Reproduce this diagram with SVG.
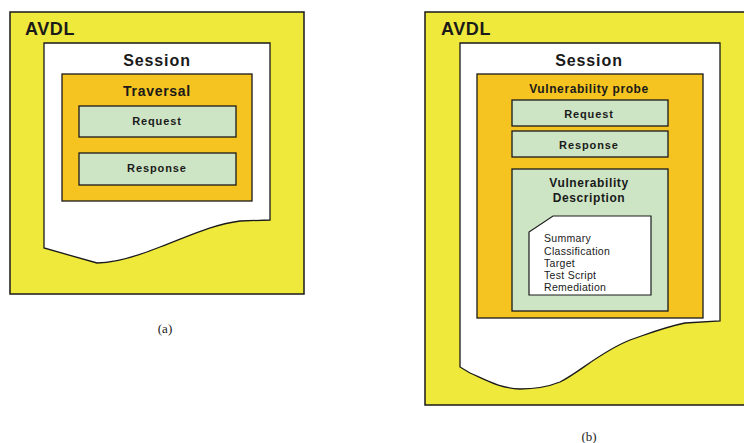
<svg xmlns="http://www.w3.org/2000/svg" width="744" height="443" viewBox="0 0 744 443">
  <style>
    .avdl { fill: #EFE93C; stroke: #1a1a1a; stroke-width: 1.5; }
    .sess { fill: #ffffff; stroke: #1a1a1a; stroke-width: 1.3; }
    .trav { fill: #F5C420; stroke: #1a1a1a; stroke-width: 1.3; }
    .msg  { fill: #CDE5C5; stroke: #1a1a1a; stroke-width: 1.3; }
    .note { fill: #ffffff; stroke: #1a1a1a; stroke-width: 1.2; }
    text { font-family: "Liberation Sans", Arial, sans-serif; fill: #1a1a1a; }
    .t1 { font-size: 18px; font-weight: bold; letter-spacing: 0.6px; }
    .t2 { font-size: 16px; font-weight: bold; text-anchor: middle; letter-spacing: 0.9px; }
    .t3 { font-size: 14px; font-weight: bold; text-anchor: middle; letter-spacing: 0.7px; }
    .t4 { font-size: 11px; font-weight: bold; text-anchor: middle; letter-spacing: 0.9px; }
    .t6 { font-size: 12px; font-weight: bold; text-anchor: middle; letter-spacing: 0.6px; }
    .t5 { font-size: 10.5px; letter-spacing: 0.3px; }
    .cap { font-family: "Liberation Serif", "Times New Roman", serif; font-size: 13px; text-anchor: middle; }
  </style>

  <!-- (a) traversal -->
  <g id="a-avdl">
    <rect class="avdl" x="10" y="12" width="294" height="282"/>
    <text class="t1" x="25" y="35">AVDL</text>
  </g>
  <g id="a-session">
    <path class="sess" d="M44,43 H270 V220 L240,221 C210,225 185,238 160,247 C135,257 115,263 97,263 L44,248 Z"/>
    <text class="t2" x="157" y="66">Session</text>
  </g>
  <g id="a-traversal">
    <rect class="trav" x="62" y="74" width="190" height="127"/>
    <text class="t3" x="157" y="96">Traversal</text>
  </g>
  <g id="a-request">
    <rect class="msg" x="79" y="106" width="157" height="31"/>
    <text class="t4" x="157" y="125">Request</text>
  </g>
  <g id="a-response">
    <rect class="msg" x="79" y="153" width="157" height="32"/>
    <text class="t4" x="157" y="172">Response</text>
  </g>
  <text class="cap" x="165" y="333">(a)</text>

  <!-- (b) vulnerability probe -->
  <g id="b-avdl">
    <path class="avdl" d="M746,12 H425 V405 H746"/>
    <text class="t1" x="441" y="35">AVDL</text>
  </g>
  <g id="b-session">
    <path class="sess" d="M460,43 H720 V321 L685,323 C665,327 650,333 630,340 C600,352 580,372 560,382 C545,388 530,389 520,389 C500,388 490,382 470,373 L460,367 Z"/>
    <text class="t2" x="589" y="66">Session</text>
  </g>
  <g id="b-probe">
    <rect class="trav" x="477" y="74" width="226" height="244"/>
    <text class="t6" x="589" y="93">Vulnerability probe</text>
  </g>
  <g id="b-request">
    <rect class="msg" x="512" y="100" width="156" height="26"/>
    <text class="t4" x="589" y="118">Request</text>
  </g>
  <g id="b-response">
    <rect class="msg" x="512" y="131" width="156" height="26"/>
    <text class="t4" x="589" y="149">Response</text>
  </g>
  <g id="b-description">
    <rect class="msg" x="512" y="169" width="156" height="142"/>
    <text class="t6" x="589" y="187">Vulnerability</text>
    <text class="t6" x="589" y="202">Description</text>
  </g>
  <g id="b-fields">
    <path class="note" d="M553,216 H651 V295 H529 V232 Z"/>
    <text class="t5" x="544" y="242">Summary</text>
    <text class="t5" x="544" y="255">Classification</text>
    <text class="t5" x="544" y="267">Target</text>
    <text class="t5" x="544" y="279">Test Script</text>
    <text class="t5" x="544" y="291">Remediation</text>
  </g>
  <text class="cap" x="589" y="441">(b)</text>

  <!-- no connectors in this diagram -->
  <g id="connectors"/>
</svg>
